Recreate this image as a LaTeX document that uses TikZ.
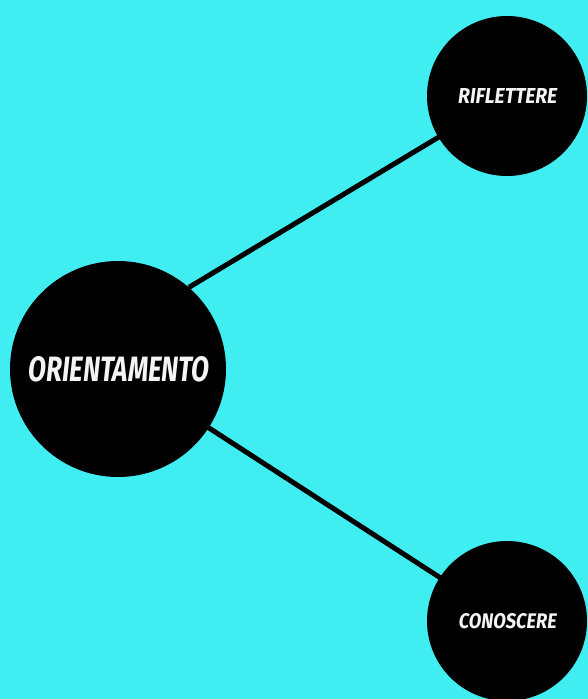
\documentclass[tikz,border=0pt]{standalone}
\usepackage{graphicx}
\usepackage{fontspec}
\usetikzlibrary{backgrounds}
\newfontfamily\comic{Fira Sans Bold}[FakeSlant=0.15]
\definecolor{bgcyan}{HTML}{40EEF2}
\definecolor{txtwhite}{HTML}{F4F4F4}
\begin{document}
\begin{tikzpicture}[x=1pt,y=-1pt,
  bubble/.style={circle,fill=black,draw=none,inner sep=0pt,minimum size=#1},
  link/.style={line width=5pt,black},
  lbl/.style={text=txtwhite,inner sep=0pt}]
\useasboundingbox (0,0) rectangle (588,699);
\node[bubble=216pt] (main) at (118,369) {};
\node[bubble=160pt] (top) at (507,96) {};
\node[bubble=160pt] (bot) at (507,621) {};
\node[lbl] (mainl) at (main.center) {\resizebox{181pt}{25pt}{\comic ORIENTAMENTO}};
\node[lbl] (topl) at (top.center) {\resizebox{99pt}{15pt}{\comic RIFLETTERE}};
\node[lbl] (botl) at (bot.center) {\resizebox{98pt}{15pt}{\comic CONOSCERE}};
\begin{scope}[on background layer]
\fill[bgcyan] (0,0) rectangle (588,699);
\draw[link] (main.49) -- (top.center);
\draw[link] (main.center) -- (bot.center);
\end{scope}
\end{tikzpicture}
\end{document}
